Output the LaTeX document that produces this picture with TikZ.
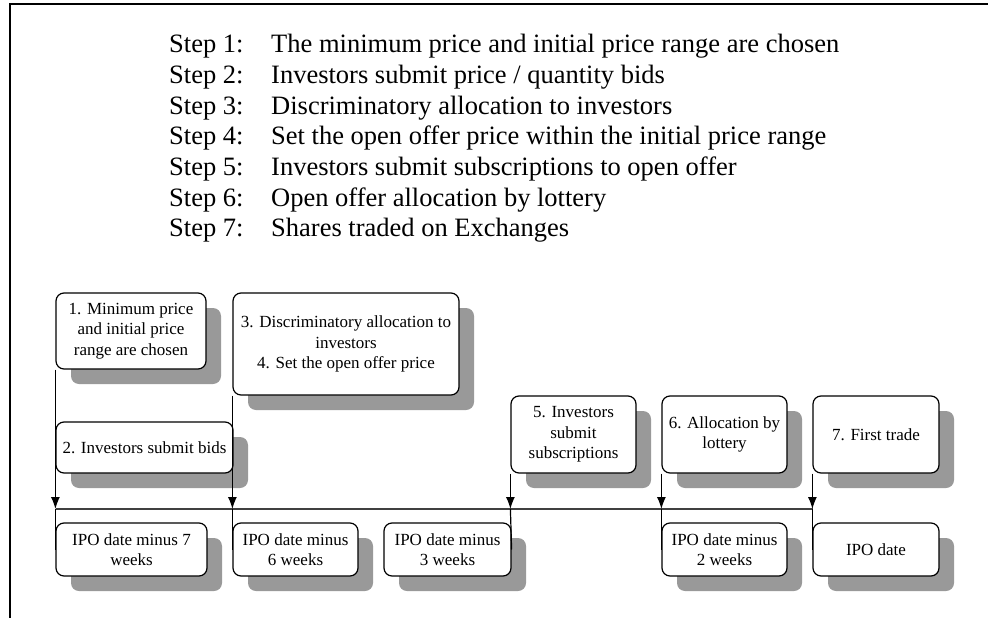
\documentclass[tikz,border=0pt]{standalone}
\usepackage{fontspec}
\setmainfont{Liberation Serif}
\usetikzlibrary{positioning}
\usetikzlibrary{calc}
\usetikzlibrary{shadows}
\usetikzlibrary{arrows.meta}
\tikzset{>={Latex[length=12pt, width=9pt]}}
\tikzset{stepline/.style={anchor=base west, inner sep=0pt, font=\fontsize{26.5}{30}\selectfont}}
\tikzset{event/.style={rectangle, draw, rounded corners=8pt, line width=1.2pt, fill=white, align=center, inner sep=2pt, font=\fontsize{17}{20.5}\selectfont, drop shadow={shadow xshift=15pt, shadow yshift=-15pt, opacity=1, fill=black!40}}}
\tikzset{tick/.style={->, line width=1.2pt}}
\tikzset{tie/.style={line width=1.2pt}}
\tikzset{timeline/.style={line width=1.8pt, black!75}}
\tikzset{frame/.style={line width=2.5pt}}

\begin{document}
\begin{tikzpicture}[x=1pt, y=-1pt]
    \useasboundingbox (0,0) rectangle (988,618);
    \draw [frame] (988,4) -- (10,4) -- (10,618);

    \node [stepline] (step1) at (169,53) {\makebox[102pt][l]{Step 1:}The minimum price and initial price range are chosen};
    \node [stepline] (step2) at (169,83.6) {\makebox[102pt][l]{Step 2:}Investors submit price / quantity bids};
    \node [stepline] (step3) at (169,114.2) {\makebox[102pt][l]{Step 3:}Discriminatory allocation to investors};
    \node [stepline] (step4) at (169,144.8) {\makebox[102pt][l]{Step 4:}Set the open offer price within the initial price range};
    \node [stepline] (step5) at (169,175.4) {\makebox[102pt][l]{Step 5:}Investors submit subscriptions to open offer};
    \node [stepline] (step6) at (169,206) {\makebox[102pt][l]{Step 6:}Open offer allocation by lottery};
    \node [stepline] (step7) at (169,236.6) {\makebox[102pt][l]{Step 7:}Shares traded on Exchanges};

    \node [event, minimum width=150pt, minimum height=76pt] (choose0) at (131,331) {1. Minimum price\\and initial price\\range are chosen};
    \node [event, minimum width=177pt, minimum height=51pt] (bids0) at (144.5,447.5) {2. Investors submit bids};
    \node [event, minimum width=226pt, minimum height=102pt] (alloc0) at (346,344) {3. Discriminatory allocation to\\investors\\4. Set the open offer price};
    \node [event, minimum width=125pt, minimum height=77pt] (subscribe0) at (573.5,434.5) {5. Investors\\submit\\subscriptions};
    \node [event, minimum width=125pt, minimum height=77pt] (lottery0) at (724.5,434.5) {6. Allocation by\\lottery};
    \node [event, minimum width=126pt, minimum height=77pt] (trade0) at (876,434.5) {7. First trade};

    \node [event, minimum width=151pt, minimum height=53pt] (date7) at (131.5,549.5) {IPO date minus 7\\weeks};
    \node [event, minimum width=125pt, minimum height=53pt] (date6) at (295.5,549.5) {IPO date minus\\6 weeks};
    \node [event, minimum width=127pt, minimum height=53pt] (date3) at (447.5,549.5) {IPO date minus\\3 weeks};
    \node [event, minimum width=125pt, minimum height=53pt] (date2) at (724.5,549.5) {IPO date minus\\2 weeks};
    \node [event, minimum width=126pt, minimum height=53pt] (date0) at (876,549.5) {IPO date};

    \coordinate (lineStart) at (56,509);
    \coordinate (lineEnd) at (813,509);
    \draw [timeline] (lineStart) -- (lineEnd);

    \draw [tick] (choose0.south west) -- (choose0.south west |- lineStart);
    \draw [tick] (alloc0.south west) -- (alloc0.south west |- lineStart);
    \draw [tick] (subscribe0.south west) -- (subscribe0.south west |- lineStart);
    \draw [tick] (lottery0.south west) -- (lottery0.south west |- lineStart);
    \draw [tick] (trade0.south west) -- (trade0.south west |- lineStart);

    \draw [tie] (choose0.south west |- lineStart) -- (date7.west);
    \draw [tie] (alloc0.south west |- lineStart) -- (date6.west);
    \draw [tie] (subscribe0.south west |- lineStart) -- (date3.east);
    \draw [tie] (lottery0.south west |- lineStart) -- (date2.west);
    \draw [tie] (trade0.south west |- lineStart) -- (date0.west);

\end{tikzpicture}
\end{document}
